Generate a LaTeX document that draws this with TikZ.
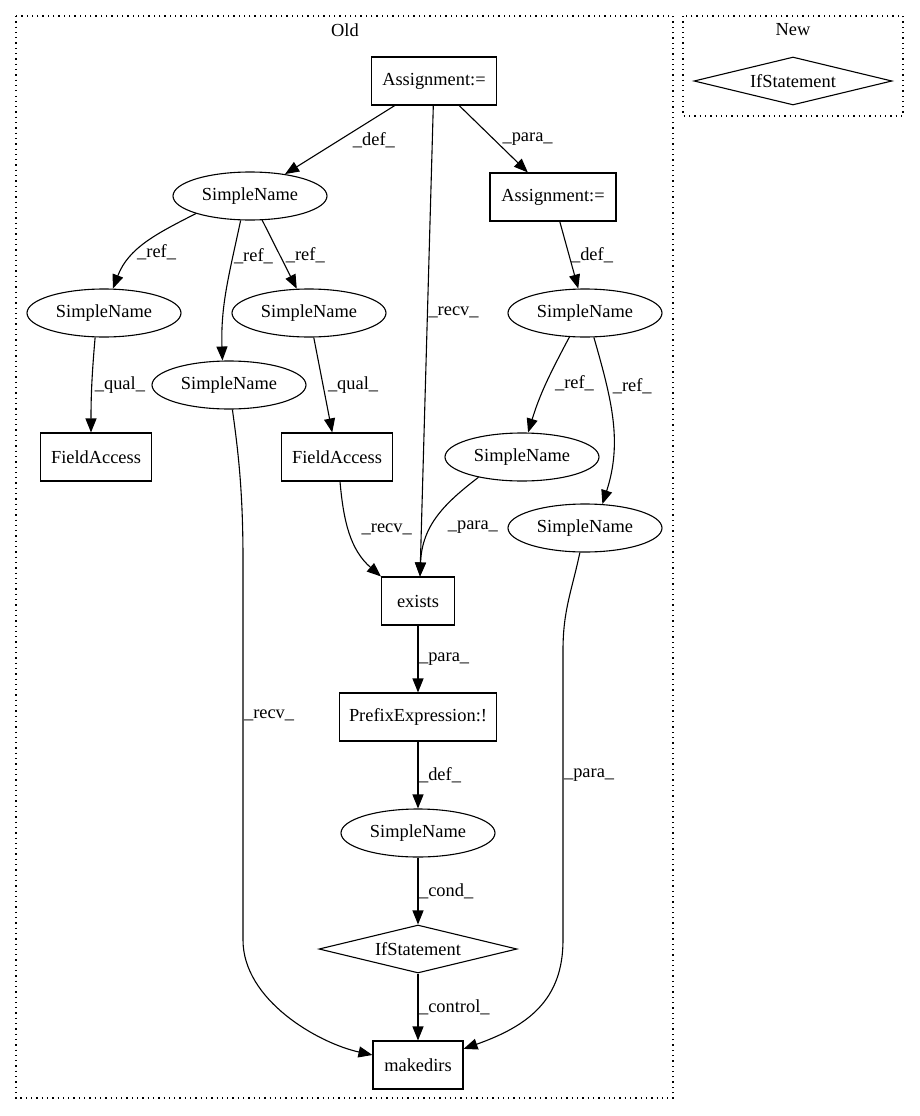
\documentclass[tikz,border=0pt]{standalone}
\usepackage{fontspec}
\setmainfont{Liberation Serif}
\usetikzlibrary{arrows.meta,shapes.geometric}

\begin{document}
\begin{tikzpicture}[
    x=1pt, y=-1pt,
    every node/.style={font=\fontsize{18.4}{22}\selectfont},
    box/.style={draw, line width=1.1pt, rectangle, minimum height=48pt, inner xsep=0pt},
    ident/.style={draw, line width=1.1pt, ellipse, minimum width=154pt, minimum height=48pt, inner sep=0pt},
    decision/.style={draw, line width=1.1pt, diamond, aspect=4, minimum width=198pt, minimum height=48pt, inner sep=0pt},
    arrow/.style={-{Triangle[length=14pt, width=11pt]}, line width=1.1pt},
    lbl/.style={anchor=west, inner sep=0.5pt},
    cluster/.style={line width=1.3pt, dash pattern=on 1.3pt off 4pt}
]
\useasboundingbox (0,0) rectangle (919,1116);
\draw[cluster] (16,16) rectangle (673,1098);
\draw[cluster] (683,16) rectangle (903,116);
\node (oldtitle) at (345,30) {Old};
\node (newtitle) at (793,30) {New};

\node[box, minimum width=125] (assign) at (434,81) {Assignment:=};
\node[box, minimum width=126] (assign2) at (553,197) {Assignment:=};
\node[ident] (def) at (250,196) {SimpleName};
\node[ident] (refA) at (104,313) {SimpleName};
\node[ident] (refB) at (309,313) {SimpleName};
\node[ident] (refC) at (229,385) {SimpleName};
\node[box, minimum width=111] (fieldA) at (96,457) {FieldAccess};
\node[box, minimum width=111] (fieldB) at (337,457) {FieldAccess};
\node[ident] (def2) at (585,313) {SimpleName};
\node[ident] (ref2A) at (522,457) {SimpleName};
\node[ident] (ref2B) at (585,528) {SimpleName};
\node[box, minimum width=73] (exists) at (418,601) {exists};
\node[box, minimum width=157] (prefix) at (418,717) {PrefixExpression:!};
\node[ident] (flag) at (418,833) {SimpleName};
\node[decision] (ifold) at (418,949) {IfStatement};
\node[box, minimum width=90] (makedirs) at (418,1065) {makedirs};
\node[decision] (ifnew) at (793,81) {IfStatement};

\draw[arrow] (assign) -- (def) node[lbl, midway, xshift=12] {\_def\_};
\draw[arrow] (assign) -- (assign2) node[lbl, midway, xshift=8] {\_para\_};
\draw[arrow] (assign) -- ([xshift=2]exists.north) node[lbl, pos=0.44] {\_recv\_};
\draw[arrow] (def.198) to[out=207, in=69] node[lbl, pos=0.62] {\_ref\_} (refA.70);
\draw[arrow] (def.249) to[out=258, in=92] node[lbl, pos=0.24] {\_ref\_} (refC.105);
\draw[arrow] (def) -- (refB) node[lbl, pos=0.51, xshift=5] {\_ref\_};
\draw[arrow] (refA.250) to[out=265, in=90] node[lbl, pos=0.5, xshift=2] {\_qual\_} ([xshift=-5]fieldA.north);
\draw[arrow] (refB) -- (fieldB) node[lbl, midway, xshift=4] {\_qual\_};
\draw[arrow] ([xshift=3]fieldB.south) to[out=-85, in=139] node[lbl, pos=0.45, xshift=12] {\_recv\_} (exists.north west);
\draw[arrow] (ref2A.205) .. controls (445,503) and (422,525) .. ([xshift=2]exists.north) node[lbl, pos=0.6, xshift=15] {\_para\_};
\draw[arrow] (assign2) -- (def2) node[lbl, midway, xshift=1] {\_def\_};
\draw[arrow] (def2.237) to[out=242, in=73] node[lbl, pos=0.5, xshift=8] {\_ref\_} (ref2A.76);
\draw[arrow] (def2.290) to[out=286, in=72] node[lbl, pos=0.28, xshift=5] {\_ref\_} (ref2B.54);
\draw[arrow] (exists) -- (prefix) node[lbl, midway] {\_para\_};
\draw[arrow] (prefix) -- (flag) node[lbl, midway] {\_def\_};
\draw[arrow] (flag) -- (ifold) node[lbl, midway] {\_cond\_};
\draw[arrow] (ifold) -- (makedirs) node[lbl, midway] {\_control\_};
\draw[arrow] (refC) .. controls (238,450) and (243,490) .. (243,560) -- (243,940) node[lbl, pos=0.41] {\_recv\_} .. controls (243,1000) and (318,1043) .. (makedirs);
\draw[arrow] (ref2B) .. controls (572,590) and (563,610) .. (563,650) -- (563,940) node[lbl, pos=0.43] {\_para\_} .. controls (563,1000) and (528,1026) .. (makedirs);
\end{tikzpicture}
\end{document}
